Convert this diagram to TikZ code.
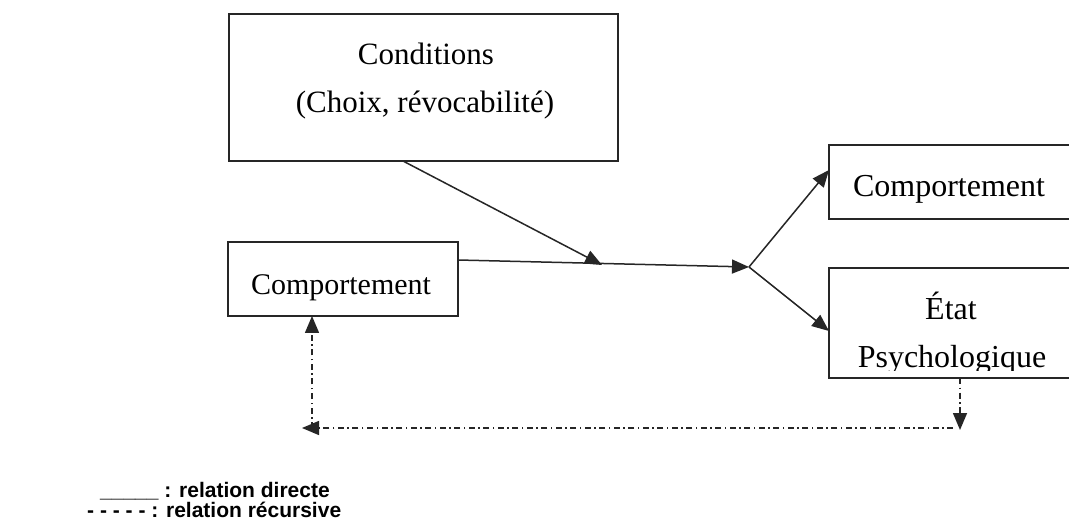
\documentclass[tikz,border=0pt]{standalone}
\usepackage{fontspec}
\setmainfont{Liberation Serif}
\newfontfamily\legendfont{Liberation Sans}
\usetikzlibrary{arrows.meta}
\tikzset{
  box/.style={draw=black!85, line width=1.6bp, inner sep=0pt, rectangle},
  lbl/.style={anchor=base, inner sep=0pt},
  tip/.style={-{Triangle[length=17bp,width=14bp]}},
  conn/.style={draw=black!85, line width=1.5bp, tip},
  rec/.style={draw=black!85, line width=1.5bp, dash pattern=on 6bp off 3.5bp on 1.5bp off 3.5bp, tip},
  leg/.style={anchor=base west, inner sep=0pt, font=\legendfont\bfseries\fontsize{21bp}{22bp}\selectfont}
}
\begin{document}
\begin{tikzpicture}[x=1bp,y=-1bp]
\path[use as bounding box, fill=white] (0,0) rectangle (1069,522);
\begin{scope}
\clip (0,0) rectangle (1069,522);
% boxes
\node[box, minimum width=389bp, minimum height=147bp] (cond) at (423.5,87.5) {};
\node[box, minimum width=230bp, minimum height=74bp] (compL) at (343,279) {};
\node[box, minimum width=242bp, minimum height=74bp] (compR) at (950,182) {};
\node[box, minimum width=242bp, minimum height=110bp] (etat) at (950,323) {};
% texts
\node[lbl, font=\fontsize{31bp}{36bp}\selectfont] (t1) at (426,65) {Conditions};
\node[lbl, font=\fontsize{31bp}{36bp}\selectfont] (t2) at (425,113) {(Choix, révocabilité)};
\node[lbl, font=\fontsize{30bp}{36bp}\selectfont] (t3) at (341,295) {Comportement};
\node[lbl, font=\fontsize{32bp}{36bp}\selectfont] (t4) at (949,197) {Comportement};
\node[lbl, font=\fontsize{32bp}{36bp}\selectfont] (t5) at (951,320) {État};
\begin{scope}
\clip (829,268) rectangle (1071,371);
\node[lbl, font=\fontsize{32bp}{36bp}\selectfont] (t6) at (952,368) {Psychologique};
\end{scope}
% junction points
\coordinate (j1) at (602,265);
\coordinate (j2) at (749,267);
\coordinate (a0) at (458,260);
\coordinate (a1) at (403,161);
\coordinate (r0) at (960,378);
\coordinate (r1) at (960,430);
\coordinate (r2) at (953,428);
\coordinate (r3) at (302,428);
\coordinate (r4) at (312,428);
\coordinate (r5) at (312,316);
\coordinate (e1) at (829,170);
\coordinate (e2) at (829,331);
% direct connectors
\draw[conn] (a1) -- (j1);
\draw[conn] (a0) -- (j2);
\draw[conn] (j2) -- (e1);
\draw[conn] (j2) -- (e2);
% recursive connectors
\draw[rec] (r0) -- (r1);
\draw[rec] (r2) -- (r3);
\draw[rec] (r4) -- (r5);
% legend
\node[leg] (l1) at (100,497) {\_\_\_\_\_ : relation directe};
\node[leg] (l2) at (87,517) {- - - - - : relation récursive};
\end{scope}
\end{tikzpicture}
\end{document}
